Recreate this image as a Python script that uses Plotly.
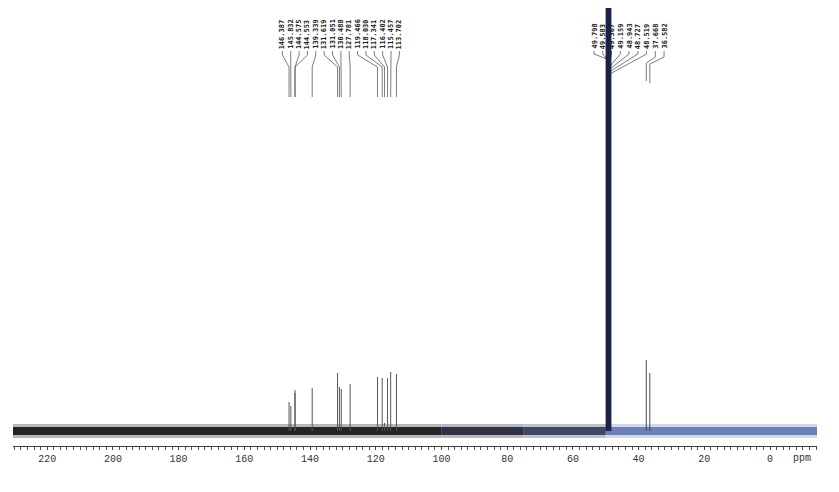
import plotly.graph_objects as go

# ---------------- data ----------------
aromatic_ppm = [146.387, 145.832, 144.575, 144.553, 139.339, 131.619, 131.051,
                130.488, 127.781, 119.466, 118.030, 117.341, 116.402, 115.457, 113.702]
aromatic_int = [29, 25, 41, 38, 43, 58, 44, 42, 47, 54, 53, 8, 53, 59, 57]

solvent_ppm = [49.798, 49.583, 49.367, 49.159, 48.943, 48.727, 48.519]
solvent_int = [600, 1500, 3000, 4000, 3000, 1500, 600]

aliph_ppm = [37.668, 36.582]
aliph_int = [71, 58]

tick_vals = [220, 200, 180, 160, 140, 120, 100, 80, 60, 40, 20, 0]
tick_text = ["220", "200", "180", "160", "140", "120", "100", "80", "60", "40", "20", "0"]

# baseline noise segments (ppm from, ppm to) and their look
noise_from = [230.4, 100.0, 75.0, 50.0]
noise_to = [100.0, 75.0, 50.0, -14.3]
noise_color = ["#111111", "#161a2e", "#1f2848", "#3c52a0"]
noise_opacity = [(0.30, 0.88), (0.30, 0.85), (0.28, 0.80), (0.22, 0.68)]

# ---------------- layout constants ----------------
# the page body adds an 8 px offset, so the figure is sized to compensate
W, H = 831, 484
ML, MR, MT, MB = 5, 22, 0, 46
X_RANGE = [230.4, -14.3]
Y_RANGE = [-15, 423]
ppm_per_px = (X_RANGE[0] - X_RANGE[1]) / (W - ML - MR)
px_per_unit = (H - MT - MB) / (Y_RANGE[1] - Y_RANGE[0])

fig = go.Figure()

# baseline noise band
for a, b, c, (o_out, o_in) in zip(noise_from, noise_to, noise_color, noise_opacity):
    for amp, op in ((7, o_out), (4, o_in)):
        fig.add_trace(go.Scatter(
            x=[a, b, b, a, a], y=[-amp, -amp, amp, amp, -amp],
            fill="toself", fillcolor=c, opacity=op, mode="none",
            hoverinfo="skip", showlegend=False))

# ---------------- label leaders ----------------
lx_all, ly_all = [], []
ann = []


def leader(lx, px, yb, y1, y2, y3):
    lx_all.extend([lx, lx, px, px, None])
    ly_all.extend([yb, y1, y2, y3, None])


YB = 380  # bottom of label text (units = px above baseline)
# group 1 (aromatic)
g1_start = 148.42
g1_step = 8.36 * ppm_per_px
for i, p in enumerate(aromatic_ppm):
    lx = g1_start - i * g1_step
    leader(lx, p, YB, 376, 364, 334)
    ann.append((lx, f"{p:.3f}"))

# group 2 (solvent + aliphatic)
g2_start = 53.56
g2_step = 8.75 * ppm_per_px
for i, p in enumerate(solvent_ppm):
    lx = g2_start - i * g2_step
    leader(lx, 48.943, YB, 377, 371 - 2.4 * i, 340)
    ann.append((lx, f"{p:.3f}"))
for j, p in enumerate(aliph_ppm):
    i = len(solvent_ppm) + j
    lx = g2_start - i * g2_step
    leader(lx, p, YB, 374, 368 - j, 350 - 2 * j)
    ann.append((lx, f"{p:.3f}"))

fig.add_trace(go.Scatter(x=lx_all, y=ly_all, mode="lines",
                         line=dict(color="#5a5a5a", width=0.8),
                         hoverinfo="skip", showlegend=False))


# ---------------- peaks (sticks) ----------------
def sticks(ppm, inten):
    xs, ys = [], []
    for p, h in zip(ppm, inten):
        xs.extend([p, p, None])
        ys.extend([0, h, None])
    return xs, ys


xs, ys = sticks(aromatic_ppm, aromatic_int)
fig.add_trace(go.Scatter(x=xs, y=ys, mode="lines",
                         line=dict(color="#555555", width=1),
                         hoverinfo="skip", showlegend=False))
xs, ys = sticks(aliph_ppm, aliph_int)
fig.add_trace(go.Scatter(x=xs, y=ys, mode="lines",
                         line=dict(color="#4a4a4a", width=1),
                         hoverinfo="skip", showlegend=False))
xs, ys = sticks(solvent_ppm, solvent_int)
fig.add_trace(go.Scatter(x=xs, y=ys, mode="lines",
                         line=dict(color="#1c2348", width=1.6),
                         hoverinfo="skip", showlegend=False))

# peak value labels (rotated)
for lx, t in ann:
    fig.add_annotation(x=lx, y=YB, xref="x", yref="y", text=t, textangle=-90,
                       showarrow=False, xanchor="center", yanchor="bottom",
                       font=dict(family="DejaVu Sans Mono", size=7, color="#222222",
                                 weight="bold"))

# ppm unit label (12 px below the axis line, in paper coordinates)
ppm_x_paper = (X_RANGE[0] - (-9.6)) / (X_RANGE[0] - X_RANGE[1])
ppm_y_paper = -12 / (H - MT - MB)
fig.add_annotation(x=ppm_x_paper, y=ppm_y_paper, xref="paper", yref="paper",
                   text="ppm", showarrow=False, xanchor="center", yanchor="middle",
                   font=dict(family="Liberation Mono", size=10, color="#333333"))

fig.update_layout(
    width=W, height=H,
    margin=dict(l=ML, r=MR, t=MT, b=MB),
    paper_bgcolor="white", plot_bgcolor="white",
    showlegend=False,
    xaxis=dict(range=X_RANGE, autorange=False, showgrid=False, zeroline=False,
               showline=True, linecolor="#444444", linewidth=1,
               ticks="outside", ticklen=3, tickcolor="#444444", tickwidth=1,
               tickvals=tick_vals, ticktext=tick_text,
               tickfont=dict(family="Liberation Mono", size=10, color="#333333"),
               minor=dict(dtick=2, ticks="outside", ticklen=3, tickcolor="#555555",
                          showgrid=False)),
    yaxis=dict(range=Y_RANGE, autorange=False, visible=False, showgrid=False,
               zeroline=False),
)

fig.write_html("out.html")
